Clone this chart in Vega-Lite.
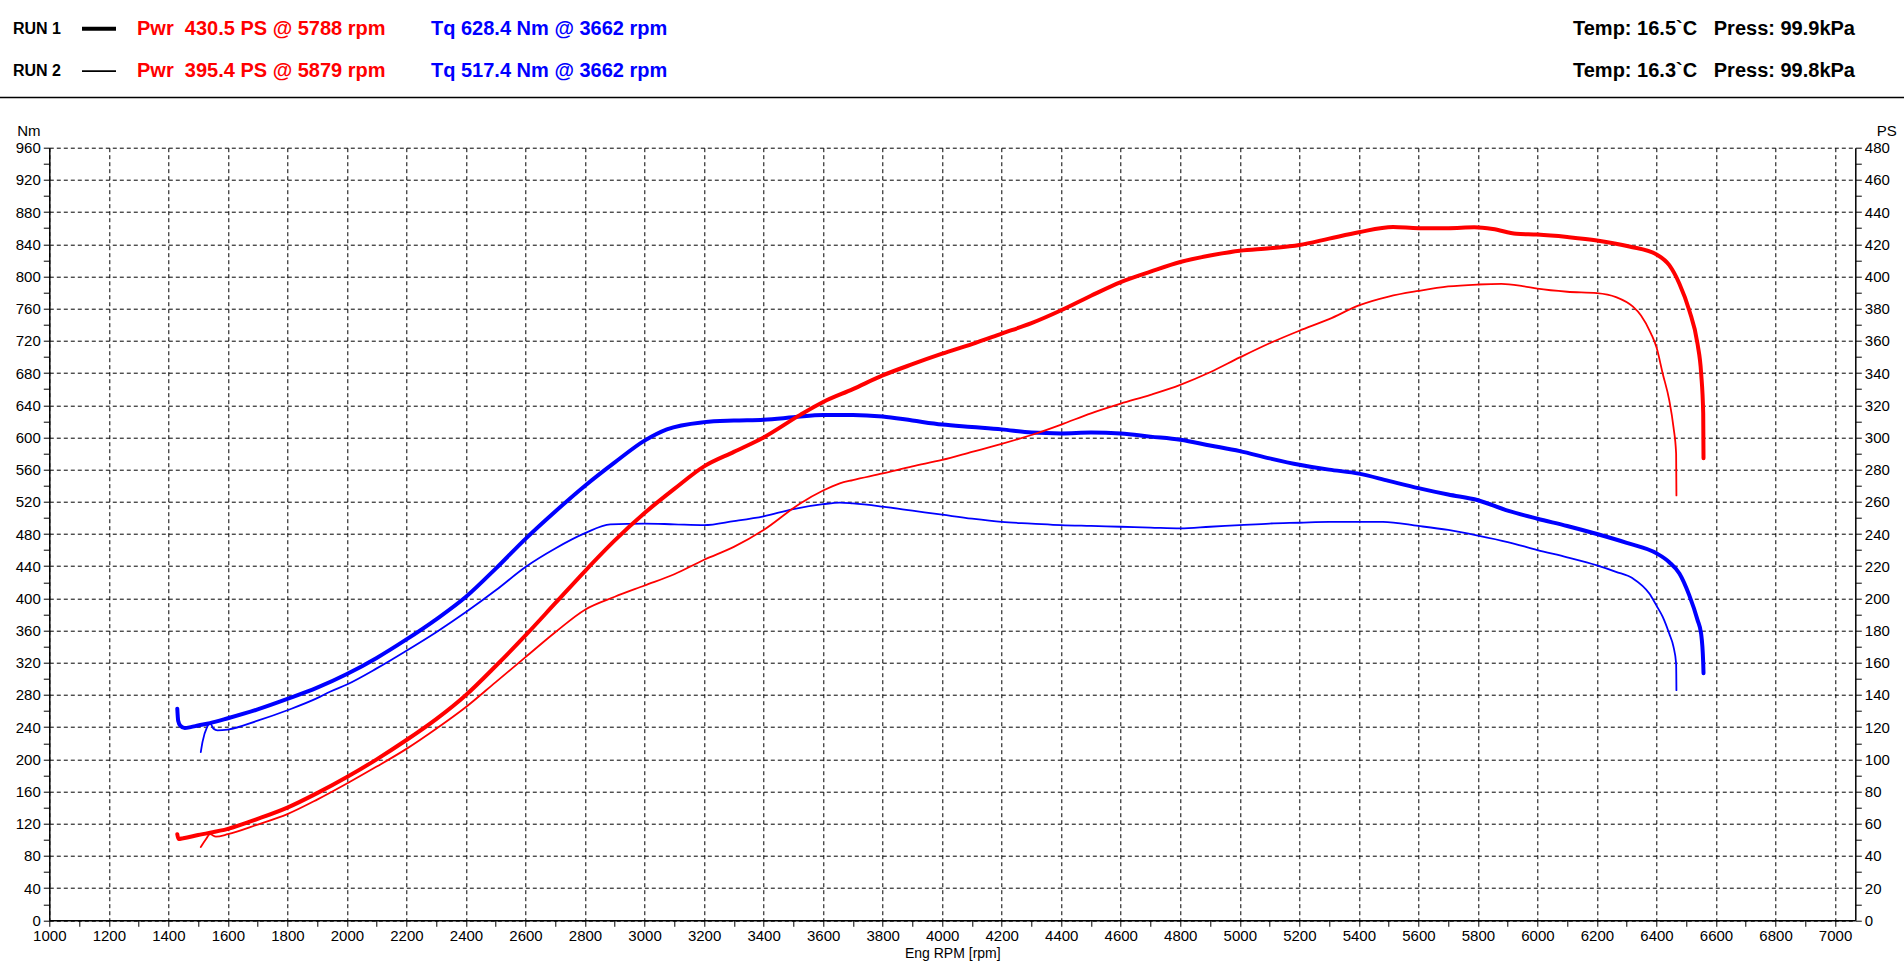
{
  "$schema": "https://vega.github.io/schema/vega-lite/v6.json",
  "width": 1806,
  "height": 772.6,
  "autosize": {"type": "none"},
  "padding": {"left": 49.3, "top": 147.7, "right": 48.7, "bottom": 48.7},
  "background": "white",
  "config": {
    "view": {"stroke": null},
    "font": "Liberation Sans",
    "axis": {
      "labelFont": "Liberation Sans",
      "titleFont": "Liberation Sans",
      "labelColor": "black",
      "titleColor": "black",
      "domainColor": "black",
      "tickColor": "black",
      "gridColor": "black",
      "labelFontSize": 15,
      "titleFontWeight": "normal",
      "labelOverlap": false,
      "labelFlush": false
    }
  },
  "datasets": {
    "torque": [
      {"run": "RUN 1", "rpm": 1430, "nm": 263},
      {"run": "RUN 1", "rpm": 1433, "nm": 248},
      {"run": "RUN 1", "rpm": 1440, "nm": 242},
      {"run": "RUN 1", "rpm": 1455, "nm": 239},
      {"run": "RUN 1", "rpm": 1475, "nm": 240},
      {"run": "RUN 1", "rpm": 1500, "nm": 242},
      {"run": "RUN 1", "rpm": 1540, "nm": 245},
      {"run": "RUN 1", "rpm": 1600, "nm": 251},
      {"run": "RUN 1", "rpm": 1700, "nm": 262},
      {"run": "RUN 1", "rpm": 1800, "nm": 275},
      {"run": "RUN 1", "rpm": 1900, "nm": 289},
      {"run": "RUN 1", "rpm": 2000, "nm": 306},
      {"run": "RUN 1", "rpm": 2100, "nm": 326},
      {"run": "RUN 1", "rpm": 2200, "nm": 349},
      {"run": "RUN 1", "rpm": 2300, "nm": 374},
      {"run": "RUN 1", "rpm": 2400, "nm": 402},
      {"run": "RUN 1", "rpm": 2500, "nm": 437},
      {"run": "RUN 1", "rpm": 2600, "nm": 474},
      {"run": "RUN 1", "rpm": 2700, "nm": 508},
      {"run": "RUN 1", "rpm": 2800, "nm": 540},
      {"run": "RUN 1", "rpm": 2900, "nm": 569},
      {"run": "RUN 1", "rpm": 3000, "nm": 596},
      {"run": "RUN 1", "rpm": 3075, "nm": 610},
      {"run": "RUN 1", "rpm": 3200, "nm": 619},
      {"run": "RUN 1", "rpm": 3300, "nm": 621},
      {"run": "RUN 1", "rpm": 3400, "nm": 622},
      {"run": "RUN 1", "rpm": 3500, "nm": 625},
      {"run": "RUN 1", "rpm": 3600, "nm": 628},
      {"run": "RUN 1", "rpm": 3700, "nm": 628},
      {"run": "RUN 1", "rpm": 3800, "nm": 626},
      {"run": "RUN 1", "rpm": 3900, "nm": 621},
      {"run": "RUN 1", "rpm": 4000, "nm": 616},
      {"run": "RUN 1", "rpm": 4100, "nm": 613},
      {"run": "RUN 1", "rpm": 4200, "nm": 610},
      {"run": "RUN 1", "rpm": 4300, "nm": 606},
      {"run": "RUN 1", "rpm": 4400, "nm": 605},
      {"run": "RUN 1", "rpm": 4500, "nm": 606},
      {"run": "RUN 1", "rpm": 4600, "nm": 605},
      {"run": "RUN 1", "rpm": 4700, "nm": 601},
      {"run": "RUN 1", "rpm": 4800, "nm": 597},
      {"run": "RUN 1", "rpm": 4900, "nm": 590},
      {"run": "RUN 1", "rpm": 5000, "nm": 583},
      {"run": "RUN 1", "rpm": 5100, "nm": 574},
      {"run": "RUN 1", "rpm": 5200, "nm": 566},
      {"run": "RUN 1", "rpm": 5300, "nm": 560},
      {"run": "RUN 1", "rpm": 5400, "nm": 555},
      {"run": "RUN 1", "rpm": 5500, "nm": 546},
      {"run": "RUN 1", "rpm": 5600, "nm": 537},
      {"run": "RUN 1", "rpm": 5700, "nm": 529},
      {"run": "RUN 1", "rpm": 5800, "nm": 522},
      {"run": "RUN 1", "rpm": 5900, "nm": 509},
      {"run": "RUN 1", "rpm": 6000, "nm": 499},
      {"run": "RUN 1", "rpm": 6100, "nm": 490},
      {"run": "RUN 1", "rpm": 6200, "nm": 480},
      {"run": "RUN 1", "rpm": 6300, "nm": 469},
      {"run": "RUN 1", "rpm": 6400, "nm": 456},
      {"run": "RUN 1", "rpm": 6443, "nm": 445},
      {"run": "RUN 1", "rpm": 6477, "nm": 431},
      {"run": "RUN 1", "rpm": 6510, "nm": 404},
      {"run": "RUN 1", "rpm": 6538, "nm": 373},
      {"run": "RUN 1", "rpm": 6550, "nm": 356},
      {"run": "RUN 1", "rpm": 6557, "nm": 320},
      {"run": "RUN 1", "rpm": 6558, "nm": 307},
      {"run": "RUN 2", "rpm": 1509, "nm": 209},
      {"run": "RUN 2", "rpm": 1515, "nm": 222},
      {"run": "RUN 2", "rpm": 1530, "nm": 240},
      {"run": "RUN 2", "rpm": 1540, "nm": 245},
      {"run": "RUN 2", "rpm": 1552, "nm": 238},
      {"run": "RUN 2", "rpm": 1565, "nm": 236},
      {"run": "RUN 2", "rpm": 1600, "nm": 237},
      {"run": "RUN 2", "rpm": 1700, "nm": 248},
      {"run": "RUN 2", "rpm": 1800, "nm": 261},
      {"run": "RUN 2", "rpm": 1900, "nm": 276},
      {"run": "RUN 2", "rpm": 1943, "nm": 284},
      {"run": "RUN 2", "rpm": 2000, "nm": 293},
      {"run": "RUN 2", "rpm": 2100, "nm": 313},
      {"run": "RUN 2", "rpm": 2200, "nm": 335},
      {"run": "RUN 2", "rpm": 2300, "nm": 358},
      {"run": "RUN 2", "rpm": 2400, "nm": 383},
      {"run": "RUN 2", "rpm": 2500, "nm": 410},
      {"run": "RUN 2", "rpm": 2600, "nm": 439},
      {"run": "RUN 2", "rpm": 2700, "nm": 462},
      {"run": "RUN 2", "rpm": 2800, "nm": 481},
      {"run": "RUN 2", "rpm": 2885, "nm": 492},
      {"run": "RUN 2", "rpm": 3000, "nm": 493},
      {"run": "RUN 2", "rpm": 3100, "nm": 492},
      {"run": "RUN 2", "rpm": 3200, "nm": 491},
      {"run": "RUN 2", "rpm": 3300, "nm": 496},
      {"run": "RUN 2", "rpm": 3400, "nm": 502},
      {"run": "RUN 2", "rpm": 3500, "nm": 511},
      {"run": "RUN 2", "rpm": 3600, "nm": 517},
      {"run": "RUN 2", "rpm": 3656, "nm": 519},
      {"run": "RUN 2", "rpm": 3700, "nm": 518},
      {"run": "RUN 2", "rpm": 3800, "nm": 514},
      {"run": "RUN 2", "rpm": 3900, "nm": 509},
      {"run": "RUN 2", "rpm": 4000, "nm": 504},
      {"run": "RUN 2", "rpm": 4100, "nm": 499},
      {"run": "RUN 2", "rpm": 4200, "nm": 495},
      {"run": "RUN 2", "rpm": 4300, "nm": 493},
      {"run": "RUN 2", "rpm": 4400, "nm": 491},
      {"run": "RUN 2", "rpm": 4500, "nm": 490},
      {"run": "RUN 2", "rpm": 4600, "nm": 489},
      {"run": "RUN 2", "rpm": 4700, "nm": 488},
      {"run": "RUN 2", "rpm": 4800, "nm": 487},
      {"run": "RUN 2", "rpm": 4900, "nm": 489},
      {"run": "RUN 2", "rpm": 5000, "nm": 491},
      {"run": "RUN 2", "rpm": 5100, "nm": 493},
      {"run": "RUN 2", "rpm": 5200, "nm": 494},
      {"run": "RUN 2", "rpm": 5300, "nm": 495},
      {"run": "RUN 2", "rpm": 5400, "nm": 495},
      {"run": "RUN 2", "rpm": 5481, "nm": 495},
      {"run": "RUN 2", "rpm": 5600, "nm": 490},
      {"run": "RUN 2", "rpm": 5700, "nm": 485},
      {"run": "RUN 2", "rpm": 5800, "nm": 478},
      {"run": "RUN 2", "rpm": 5900, "nm": 470},
      {"run": "RUN 2", "rpm": 6000, "nm": 460},
      {"run": "RUN 2", "rpm": 6100, "nm": 451},
      {"run": "RUN 2", "rpm": 6200, "nm": 441},
      {"run": "RUN 2", "rpm": 6264, "nm": 433},
      {"run": "RUN 2", "rpm": 6320, "nm": 425},
      {"run": "RUN 2", "rpm": 6376, "nm": 406},
      {"run": "RUN 2", "rpm": 6400, "nm": 391},
      {"run": "RUN 2", "rpm": 6421, "nm": 377},
      {"run": "RUN 2", "rpm": 6443, "nm": 356},
      {"run": "RUN 2", "rpm": 6457, "nm": 340},
      {"run": "RUN 2", "rpm": 6466, "nm": 319},
      {"run": "RUN 2", "rpm": 6467, "nm": 286}
    ],
    "power": [
      {"run": "RUN 1", "rpm": 1430, "ps": 53.5},
      {"run": "RUN 1", "rpm": 1434, "ps": 50.5},
      {"run": "RUN 1", "rpm": 1450, "ps": 51},
      {"run": "RUN 1", "rpm": 1500, "ps": 53},
      {"run": "RUN 1", "rpm": 1600, "ps": 56.8},
      {"run": "RUN 1", "rpm": 1700, "ps": 63},
      {"run": "RUN 1", "rpm": 1800, "ps": 70},
      {"run": "RUN 1", "rpm": 1900, "ps": 79},
      {"run": "RUN 1", "rpm": 2000, "ps": 89},
      {"run": "RUN 1", "rpm": 2100, "ps": 100},
      {"run": "RUN 1", "rpm": 2200, "ps": 112},
      {"run": "RUN 1", "rpm": 2300, "ps": 125},
      {"run": "RUN 1", "rpm": 2400, "ps": 140},
      {"run": "RUN 1", "rpm": 2500, "ps": 158},
      {"run": "RUN 1", "rpm": 2600, "ps": 177},
      {"run": "RUN 1", "rpm": 2700, "ps": 197},
      {"run": "RUN 1", "rpm": 2800, "ps": 217},
      {"run": "RUN 1", "rpm": 2900, "ps": 236},
      {"run": "RUN 1", "rpm": 3000, "ps": 253},
      {"run": "RUN 1", "rpm": 3100, "ps": 268},
      {"run": "RUN 1", "rpm": 3200, "ps": 282},
      {"run": "RUN 1", "rpm": 3300, "ps": 291},
      {"run": "RUN 1", "rpm": 3400, "ps": 300},
      {"run": "RUN 1", "rpm": 3523, "ps": 314},
      {"run": "RUN 1", "rpm": 3600, "ps": 322},
      {"run": "RUN 1", "rpm": 3700, "ps": 330},
      {"run": "RUN 1", "rpm": 3800, "ps": 338.5},
      {"run": "RUN 1", "rpm": 3900, "ps": 345.5},
      {"run": "RUN 1", "rpm": 4000, "ps": 352},
      {"run": "RUN 1", "rpm": 4100, "ps": 358},
      {"run": "RUN 1", "rpm": 4200, "ps": 364.5},
      {"run": "RUN 1", "rpm": 4300, "ps": 371},
      {"run": "RUN 1", "rpm": 4400, "ps": 379},
      {"run": "RUN 1", "rpm": 4500, "ps": 388},
      {"run": "RUN 1", "rpm": 4600, "ps": 396.5},
      {"run": "RUN 1", "rpm": 4700, "ps": 403},
      {"run": "RUN 1", "rpm": 4800, "ps": 409},
      {"run": "RUN 1", "rpm": 4900, "ps": 413},
      {"run": "RUN 1", "rpm": 5000, "ps": 416},
      {"run": "RUN 1", "rpm": 5100, "ps": 417.5},
      {"run": "RUN 1", "rpm": 5200, "ps": 419.5},
      {"run": "RUN 1", "rpm": 5300, "ps": 423.5},
      {"run": "RUN 1", "rpm": 5400, "ps": 427.5},
      {"run": "RUN 1", "rpm": 5515, "ps": 430.7},
      {"run": "RUN 1", "rpm": 5600, "ps": 430},
      {"run": "RUN 1", "rpm": 5700, "ps": 430},
      {"run": "RUN 1", "rpm": 5788, "ps": 430.5},
      {"run": "RUN 1", "rpm": 5850, "ps": 429.5},
      {"run": "RUN 1", "rpm": 5929, "ps": 426.5},
      {"run": "RUN 1", "rpm": 6000, "ps": 426},
      {"run": "RUN 1", "rpm": 6100, "ps": 424.5},
      {"run": "RUN 1", "rpm": 6200, "ps": 422.4},
      {"run": "RUN 1", "rpm": 6309, "ps": 418.6},
      {"run": "RUN 1", "rpm": 6400, "ps": 413.7},
      {"run": "RUN 1", "rpm": 6443, "ps": 407},
      {"run": "RUN 1", "rpm": 6477, "ps": 395.5},
      {"run": "RUN 1", "rpm": 6510, "ps": 379},
      {"run": "RUN 1", "rpm": 6538, "ps": 358},
      {"run": "RUN 1", "rpm": 6550, "ps": 340},
      {"run": "RUN 1", "rpm": 6557, "ps": 315},
      {"run": "RUN 1", "rpm": 6558, "ps": 287},
      {"run": "RUN 2", "rpm": 1509, "ps": 45.5},
      {"run": "RUN 2", "rpm": 1525, "ps": 50},
      {"run": "RUN 2", "rpm": 1540, "ps": 53.5},
      {"run": "RUN 2", "rpm": 1560, "ps": 52},
      {"run": "RUN 2", "rpm": 1600, "ps": 53.5},
      {"run": "RUN 2", "rpm": 1700, "ps": 59.5},
      {"run": "RUN 2", "rpm": 1800, "ps": 66},
      {"run": "RUN 2", "rpm": 1900, "ps": 75},
      {"run": "RUN 2", "rpm": 2000, "ps": 85},
      {"run": "RUN 2", "rpm": 2100, "ps": 95.5},
      {"run": "RUN 2", "rpm": 2200, "ps": 106.5},
      {"run": "RUN 2", "rpm": 2300, "ps": 119},
      {"run": "RUN 2", "rpm": 2400, "ps": 132.5},
      {"run": "RUN 2", "rpm": 2500, "ps": 148},
      {"run": "RUN 2", "rpm": 2600, "ps": 163.5},
      {"run": "RUN 2", "rpm": 2700, "ps": 179},
      {"run": "RUN 2", "rpm": 2800, "ps": 193},
      {"run": "RUN 2", "rpm": 2900, "ps": 201},
      {"run": "RUN 2", "rpm": 3000, "ps": 208},
      {"run": "RUN 2", "rpm": 3100, "ps": 215},
      {"run": "RUN 2", "rpm": 3200, "ps": 224},
      {"run": "RUN 2", "rpm": 3300, "ps": 232},
      {"run": "RUN 2", "rpm": 3400, "ps": 242.5},
      {"run": "RUN 2", "rpm": 3523, "ps": 259},
      {"run": "RUN 2", "rpm": 3600, "ps": 267},
      {"run": "RUN 2", "rpm": 3656, "ps": 271.5},
      {"run": "RUN 2", "rpm": 3700, "ps": 273.5},
      {"run": "RUN 2", "rpm": 3800, "ps": 277.6},
      {"run": "RUN 2", "rpm": 3900, "ps": 282},
      {"run": "RUN 2", "rpm": 4000, "ps": 286},
      {"run": "RUN 2", "rpm": 4100, "ps": 291},
      {"run": "RUN 2", "rpm": 4200, "ps": 296},
      {"run": "RUN 2", "rpm": 4300, "ps": 301.5},
      {"run": "RUN 2", "rpm": 4400, "ps": 308},
      {"run": "RUN 2", "rpm": 4500, "ps": 315},
      {"run": "RUN 2", "rpm": 4600, "ps": 321},
      {"run": "RUN 2", "rpm": 4700, "ps": 326.5},
      {"run": "RUN 2", "rpm": 4800, "ps": 332.7},
      {"run": "RUN 2", "rpm": 4900, "ps": 340.5},
      {"run": "RUN 2", "rpm": 5000, "ps": 349.7},
      {"run": "RUN 2", "rpm": 5100, "ps": 358.5},
      {"run": "RUN 2", "rpm": 5200, "ps": 366.3},
      {"run": "RUN 2", "rpm": 5300, "ps": 373.5},
      {"run": "RUN 2", "rpm": 5400, "ps": 382},
      {"run": "RUN 2", "rpm": 5500, "ps": 387.5},
      {"run": "RUN 2", "rpm": 5600, "ps": 391},
      {"run": "RUN 2", "rpm": 5700, "ps": 393.8},
      {"run": "RUN 2", "rpm": 5800, "ps": 395},
      {"run": "RUN 2", "rpm": 5879, "ps": 395.4},
      {"run": "RUN 2", "rpm": 5950, "ps": 394},
      {"run": "RUN 2", "rpm": 6000, "ps": 392.4},
      {"run": "RUN 2", "rpm": 6100, "ps": 390.5},
      {"run": "RUN 2", "rpm": 6200, "ps": 389.7},
      {"run": "RUN 2", "rpm": 6264, "ps": 387.2},
      {"run": "RUN 2", "rpm": 6320, "ps": 381.4},
      {"run": "RUN 2", "rpm": 6348, "ps": 375.8},
      {"run": "RUN 2", "rpm": 6382, "ps": 364.4},
      {"run": "RUN 2", "rpm": 6400, "ps": 356},
      {"run": "RUN 2", "rpm": 6421, "ps": 339.6},
      {"run": "RUN 2", "rpm": 6443, "ps": 323},
      {"run": "RUN 2", "rpm": 6457, "ps": 306.5},
      {"run": "RUN 2", "rpm": 6466, "ps": 290},
      {"run": "RUN 2", "rpm": 6467, "ps": 264}
    ],
    "header": [
      {"run": "RUN 1", "pwr": "Pwr\u00a0 430.5 PS @ 5788 rpm", "tq": "Tq 628.4 Nm @ 3662 rpm", "env": "Temp: 16.5`C\u00a0 \u00a0Press: 99.9kPa"},
      {"run": "RUN 2", "pwr": "Pwr\u00a0 395.4 PS @ 5879 rpm", "tq": "Tq 517.4 Nm @ 3662 rpm", "env": "Temp: 16.3`C\u00a0 \u00a0Press: 99.8kPa"}
    ]
  },
  "layer": [
    {
      "data": {"name": "torque"},
      "mark": {"type": "line", "color": "#0000ff", "interpolate": "monotone", "strokeCap": "round", "strokeJoin": "round"},
      "encoding": {
        "x": {
          "field": "rpm", "type": "quantitative",
          "scale": {"domain": [1000, 7068], "nice": false, "zero": false},
          "axis": {
            "values": [1000,1100,1200,1300,1400,1500,1600,1700,1800,1900,2000,2100,2200,2300,2400,2500,2600,2700,2800,2900,3000,3100,3200,3300,3400,3500,3600,3700,3800,3900,4000,4100,4200,4300,4400,4500,4600,4700,4800,4900,5000,5100,5200,5300,5400,5500,5600,5700,5800,5900,6000,6100,6200,6300,6400,6500,6600,6700,6800,6900,7000],
            "format": "d",
            "labelExpr": "datum.value % 200 === 0 ? datum.label : ''",
            "grid": true,
            "gridDash": [4, 3],
            "gridWidth": 1,
            "gridOpacity": {"condition": {"test": "datum.value % 200 === 0", "value": 1}, "value": 0},
            "domainWidth": 1.5,
            "tickSize": 6,
            "tickWidth": 1,
            "labelPadding": 2,
            "title": "Eng RPM [rpm]",
            "titleFontSize": 14,
            "titlePadding": 3
          }
        },
        "y": {
          "field": "nm", "type": "quantitative",
          "scale": {"domain": [0, 960], "nice": false},
          "axis": {
            "orient": "left",
            "values": [0,20,40,60,80,100,120,140,160,180,200,220,240,260,280,300,320,340,360,380,400,420,440,460,480,500,520,540,560,580,600,620,640,660,680,700,720,740,760,780,800,820,840,860,880,900,920,940,960],
            "labelExpr": "datum.value % 40 === 0 ? datum.label : ''",
            "grid": true,
            "gridDash": [4, 3],
            "gridWidth": 1,
            "gridOpacity": {"condition": {"test": "datum.value % 40 === 0", "value": 1}, "value": 0},
            "domainWidth": 1.5,
            "tickSize": 6,
            "tickWidth": 1,
            "labelPadding": 3,
            "title": "Nm",
            "titleAngle": 0,
            "titleAlign": "center",
            "titleBaseline": "alphabetic",
            "titleX": -21,
            "titleY": -12,
            "titleFontSize": 15
          }
        },
        "strokeWidth": {"field": "run", "type": "nominal", "scale": {"domain": ["RUN 1", "RUN 2"], "range": [4, 1.8]}, "legend": null}
      }
    },
    {
      "data": {"name": "power"},
      "mark": {"type": "line", "color": "#ff0000", "interpolate": "monotone", "strokeCap": "round", "strokeJoin": "round"},
      "encoding": {
        "x": {"field": "rpm", "type": "quantitative", "scale": {"domain": [1000, 7068], "nice": false, "zero": false}, "axis": null},
        "y": {
          "field": "ps", "type": "quantitative",
          "scale": {"domain": [0, 480], "nice": false},
          "axis": {
            "orient": "right",
            "values": [0,10,20,30,40,50,60,70,80,90,100,110,120,130,140,150,160,170,180,190,200,210,220,230,240,250,260,270,280,290,300,310,320,330,340,350,360,370,380,390,400,410,420,430,440,450,460,470,480],
            "labelExpr": "datum.value % 20 === 0 ? datum.label : ''",
            "grid": false,
            "domainWidth": 1.5,
            "tickSize": 6,
            "tickWidth": 1,
            "labelPadding": 3,
            "title": "PS",
            "titleAngle": 0,
            "titleAlign": "center",
            "titleBaseline": "alphabetic",
            "titleX": 31,
            "titleY": -12,
            "titleFontSize": 15
          }
        },
        "strokeWidth": {"field": "run", "type": "nominal", "scale": {"domain": ["RUN 1", "RUN 2"], "range": [4, 1.8]}, "legend": null}
      }
    },
    {
      "data": {"name": "header"},
      "layer": [
        {
          "mark": {"type": "text", "align": "left", "baseline": "middle", "fontSize": 16, "fontWeight": "bold", "color": "black", "font": "Liberation Sans"},
          "encoding": {
            "x": {"datum": 13, "type": "quantitative", "scale": {"domain": [0, 1904], "range": [-49.3, 1854.7]}, "axis": null},
            "y": {"field": "run", "type": "nominal", "scale": {"type": "point", "domain": ["RUN 1", "RUN 2"], "range": [-119, -76.5], "padding": 0}, "axis": null},
            "text": {"field": "run"}
          }
        },
        {
          "mark": {"type": "rule", "color": "black"},
          "encoding": {
            "x": {"datum": 82, "type": "quantitative", "scale": {"domain": [0, 1904], "range": [-49.3, 1854.7]}, "axis": null},
            "x2": {"datum": 116},
            "y": {"field": "run", "type": "nominal", "scale": {"type": "point", "domain": ["RUN 1", "RUN 2"], "range": [-119, -76.5], "padding": 0}, "axis": null},
            "strokeWidth": {"field": "run", "type": "nominal", "scale": {"domain": ["RUN 1", "RUN 2"], "range": [4, 1.8]}, "legend": null}
          }
        },
        {
          "mark": {"type": "text", "align": "left", "baseline": "middle", "fontSize": 20, "fontWeight": "bold", "color": "#ff0000", "font": "Liberation Sans"},
          "encoding": {
            "x": {"datum": 137, "type": "quantitative", "scale": {"domain": [0, 1904], "range": [-49.3, 1854.7]}, "axis": null},
            "y": {"field": "run", "type": "nominal", "scale": {"type": "point", "domain": ["RUN 1", "RUN 2"], "range": [-119, -76.5], "padding": 0}, "axis": null},
            "text": {"field": "pwr"}
          }
        },
        {
          "mark": {"type": "text", "align": "left", "baseline": "middle", "fontSize": 20, "fontWeight": "bold", "color": "#0000ff", "font": "Liberation Sans"},
          "encoding": {
            "x": {"datum": 431, "type": "quantitative", "scale": {"domain": [0, 1904], "range": [-49.3, 1854.7]}, "axis": null},
            "y": {"field": "run", "type": "nominal", "scale": {"type": "point", "domain": ["RUN 1", "RUN 2"], "range": [-119, -76.5], "padding": 0}, "axis": null},
            "text": {"field": "tq"}
          }
        },
        {
          "mark": {"type": "text", "align": "right", "baseline": "middle", "fontSize": 20, "fontWeight": "bold", "color": "black", "font": "Liberation Sans"},
          "encoding": {
            "x": {"datum": 1855, "type": "quantitative", "scale": {"domain": [0, 1904], "range": [-49.3, 1854.7]}, "axis": null},
            "y": {"field": "run", "type": "nominal", "scale": {"type": "point", "domain": ["RUN 1", "RUN 2"], "range": [-119, -76.5], "padding": 0}, "axis": null},
            "text": {"field": "env"}
          }
        }
      ]
    },
    {
      "data": {"values": [{}]},
      "mark": {"type": "rule", "color": "black", "strokeWidth": 1.5},
      "encoding": {
        "x": {"datum": 0, "type": "quantitative", "scale": {"domain": [0, 1904], "range": [-49.3, 1854.7]}, "axis": null},
        "x2": {"datum": 1904},
        "y": {"datum": 97.5, "type": "quantitative", "scale": {"domain": [0, 969], "range": [-147.7, 821.3]}, "axis": null}
      }
    }
  ],
  "resolve": {"scale": {"x": "independent", "y": "independent"}}
}
